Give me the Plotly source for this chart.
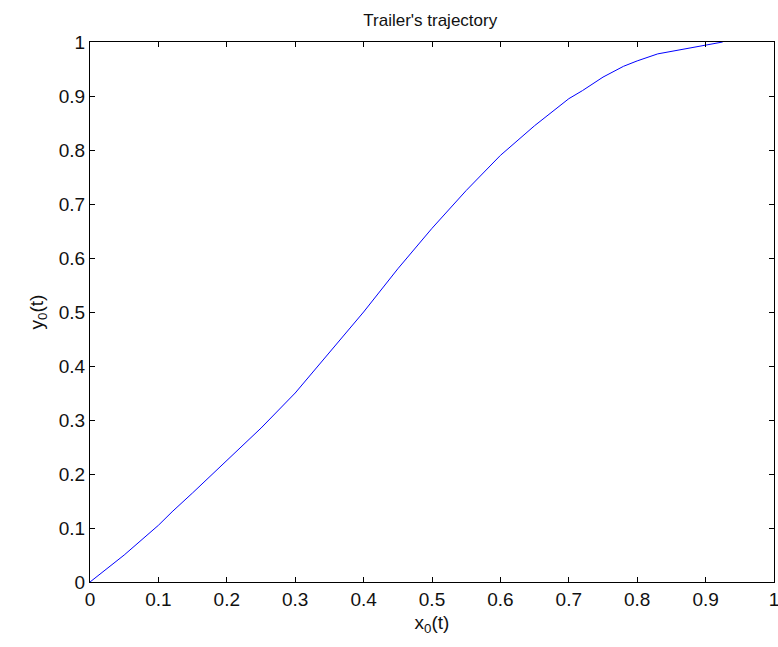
import plotly.graph_objects as go

x_vals = [0, 0.05, 0.1, 0.12, 0.15, 0.2, 0.25, 0.3, 0.35, 0.4, 0.45, 0.5, 0.55, 0.6,
          0.65, 0.7, 0.72, 0.75, 0.78, 0.8, 0.83, 0.86, 0.9, 0.925]
y_vals = [0, 0.05, 0.105, 0.13, 0.165, 0.225, 0.285, 0.35, 0.425, 0.5, 0.58, 0.655,
          0.725, 0.79, 0.845, 0.895, 0.91, 0.935, 0.955, 0.965, 0.978, 0.985, 0.995, 1.0]
tick_vals = [0, 0.1, 0.2, 0.3, 0.4, 0.5, 0.6, 0.7, 0.8, 0.9, 1]
tick_text = ["0", "0.1", "0.2", "0.3", "0.4", "0.5", "0.6", "0.7", "0.8", "0.9", "1"]

fig = go.Figure(go.Scatter(x=x_vals, y=y_vals, mode="lines",
                           line=dict(color="#0000ff", width=1)))

font_family = "Liberation Sans Narrow, Liberation Sans, Arial, sans-serif"
axis_common = dict(
    range=[0, 1], tickvals=tick_vals, ticktext=tick_text,
    ticks="inside", ticklen=5, tickwidth=1, tickcolor="#000",
    showline=True, linecolor="#000", linewidth=1, mirror="allticks",
    showgrid=False, zeroline=False, ticklabeloverflow="allow", automargin=False,
    tickfont=dict(family=font_family, size=19, color="#111"),
)
fig.update_layout(
    width=778, height=647,
    margin=dict(l=90, r=4, t=42, b=65, autoexpand=False),
    paper_bgcolor="white", plot_bgcolor="white",
    showlegend=False,
    title=dict(text="Trailer's trajectory", x=0.553, xanchor="center", y=0.969, yanchor="middle",
               font=dict(family=font_family, size=17, color="#111")),
    xaxis=dict(**axis_common, title=dict(text="x<sub>0</sub>(t)", standoff=6,
                                         font=dict(family=font_family, size=19, color="#111"))),
    yaxis=dict(**axis_common, title=dict(text="y<sub>0</sub>(t)", standoff=10,
                                         font=dict(family=font_family, size=19, color="#111"))),
)
fig.write_html("out.html")
